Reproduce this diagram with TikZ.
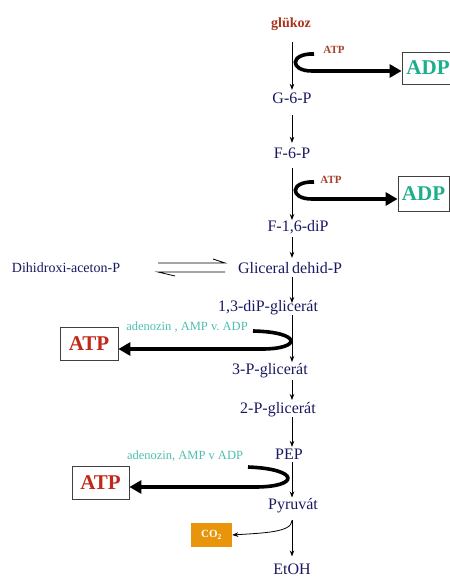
\documentclass[tikz,border=0pt]{standalone}
\usepackage{fontspec}
\setmainfont{Liberation Serif}
\usetikzlibrary{arrows.meta}
\definecolor{navy}{HTML}{181860}
\definecolor{glured}{HTML}{A8321C}
\definecolor{atpsmall}{HTML}{A8422A}
\definecolor{adpteal}{HTML}{1DAE8C}
\definecolor{adeteal}{HTML}{4CBFAE}
\definecolor{atpred}{HTML}{C0281A}
\definecolor{coorange}{HTML}{E8950C}
\newcommand{\fs}[1]{\fontsize{#1}{#1}\selectfont}
\tikzset{
  met/.style={inner sep=0pt, text=navy, font=\fs{16}},
  thin/.style={line width=0.8pt, -{Stealth[length=6pt,width=4.5pt]}},
  fat/.style={line width=3.6pt, -{Triangle[length=12pt,width=13pt]}},
  bigbox/.style={draw=black!75, line width=0.8pt, inner sep=0pt, font=\bfseries\fs{21}},
  smalllab/.style={inner sep=0pt, font=\bfseries\fs{11}, text=atpsmall},
  adelab/.style={inner sep=0pt, font=\fs{12.5}, text=adeteal},
}
\begin{document}
\begin{tikzpicture}[x=1pt,y=-1pt]
\useasboundingbox (0,0) rectangle (449,577);
\coordinate (ax) at (292,0);
% metabolites
\node[inner sep=0pt, text=glured, font=\bfseries\fs{14}] (glu) at (291,24) {glükoz};
\node[met] (g6p) at (292,98) {G-6-P};
\node[met] (f6p) at (292,153) {F-6-P};
\node[met] (f16) at (298,227) {F-1,6-diP};
\node[met] (gap) at (290,268) {Gliceral\,dehid-P};
\node[met, font=\fs{14}] (dhap) at (66,268) {Dihidroxi-aceton-P};
\node[met] (bpg) at (268,308) {1,3-diP-glicerát};
\node[met] (p3g) at (270,371) {3-P-glicerát};
\node[met] (p2g) at (278,410) {2-P-glicerát};
\node[met] (pep) at (289,454) {PEP};
\node[met] (pyr) at (293,506) {Pyruvát};
\node[met] (etoh) at (292,569) {EtOH};
% side products
\node[smalllab] (atpa) at (334,50) {ATP};
\node[smalllab] (atpb) at (331,180) {ATP};
\node[bigbox, text=adpteal, minimum width=52pt, minimum height=32pt] (adp1) at (428,68) {ADP};
\node[bigbox, text=adpteal, minimum width=51pt, minimum height=35pt] (adp2) at (423.5,193.5) {ADP};
\node[bigbox, text=atpred, minimum width=58pt, minimum height=33pt] (atp1) at (89,343.5) {ATP};
\node[bigbox, text=atpred, minimum width=57pt, minimum height=33pt] (atp2) at (100.5,482.5) {ATP};
\node[adelab] (ade1) at (187,327) {adenozin , AMP v.\ ADP};
\node[adelab] (ade2) at (185,456) {adenozin, AMP v ADP};
\node[fill=coorange, text=white, inner sep=0pt, minimum width=41pt, minimum height=24pt, font=\bfseries\fs{11}] (co2) at (211.5,535) {CO$_{\mathbf 2}$};
% main axis arrows
\draw[thin] ([yshift=-11.7pt]glu.south -| ax) -- ([yshift=2.6pt]g6p.north -| ax);
\draw[thin] ([yshift=-11.6pt]g6p.south -| ax) -- ([yshift=4.6pt]f6p.north -| ax);
\draw[thin] ([yshift=-9.6pt]f6p.south -| ax) -- ([yshift=0pt]f16.north -| ax);
\draw[thin] ([yshift=-3pt]f16.south -| ax) -- ([yshift=4.3pt]gap.north -| ax);
\draw[thin] ([yshift=-3.3pt]gap.south -| ax) -- ([yshift=-2.5pt]bpg.north -| ax);
\draw[thin] ([yshift=0pt]bpg.south -| ax) -- ([yshift=1.5pt]p3g.north -| ax);
\draw[thin] ([yshift=-1.5pt]p3g.south -| ax) -- ([yshift=2.5pt]p2g.north -| ax);
\draw[thin] ([yshift=0pt]p2g.south -| ax) -- ([yshift=1.7pt]pep.north -| ax);
\draw[thin] ([yshift=-2.7pt]pep.south -| ax) -- ([yshift=1pt]pyr.north -| ax);
\draw[thin] ([yshift=-7pt]pyr.south -| ax) -- ([yshift=7pt]etoh.north -| ax);
\draw[thin] ([yshift=-7pt]pyr.south -| ax) .. controls +(0,12) and +(30,-2) .. (co2.east);
% equilibrium
\coordinate (e1) at (158,263); \coordinate (e2) at (225,263);
\coordinate (e3) at (225,272); \coordinate (e4) at (158,272);
\draw[line width=0.8pt] (e1) -- (e2) -- ++(-12,-4);
\draw[line width=0.8pt] (e3) -- (e4) -- ++(17,4);
% ATP/ADP hooks
\coordinate (h1) at (314,54);
\draw[fat] (h1) .. controls (290,53) and (289,71) .. (312,71) -- (adp1.west |- 0,71);
\coordinate (h2) at (314,182);
\draw[fat] (h2) .. controls (290,181) and (289,199) .. (312,199) -- (adp2.west |- 0,199);
\coordinate (h3) at (253,331);
\draw[fat] (h3) .. controls (302,332) and (302,349) .. (262,349) -- (atp1.east |- 0,349);
\coordinate (h4) at (248,467);
\draw[fat] (h4) .. controls (300,469) and (300,487) .. (255,487) -- (atp2.east |- 0,487);
\end{tikzpicture}
\end{document}
